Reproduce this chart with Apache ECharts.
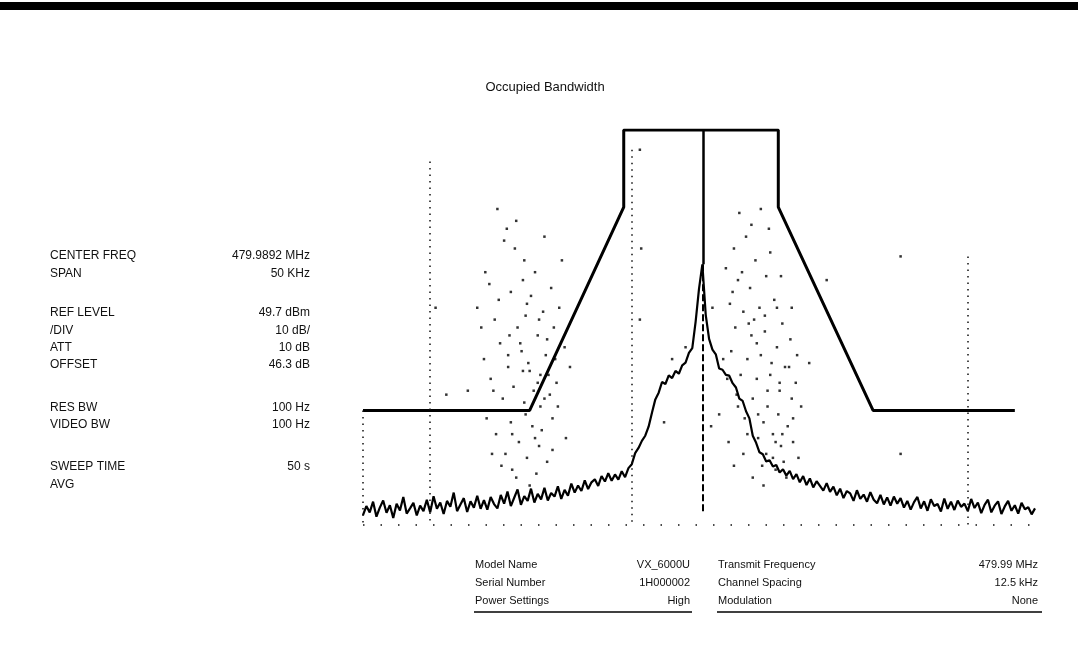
<!DOCTYPE html>
<html>
<head>
<meta charset="utf-8">
<title>Occupied Bandwidth</title>
<script src="https://cdn.jsdelivr.net/npm/echarts@6/dist/echarts.min.js"></script>
<style>
  html, body { margin: 0; padding: 0; background: #fff; }
  #chart { width: 1078px; height: 655px; }
</style>
</head>
<body>
<div id="chart"></div>
<script>
// sweep: offset from center freq in kHz, level in dB below ref
const traceStart = -25;
const traceStep = 0.25;
const traceLevels = [
  -97.5, -95.2, -96.8, -94.1, -97.9, -95.6, -93.8, -96.9, -95.0, -98.2, -94.6, -96.3, -92.9, -97.1, -95.8, -94.4, -97.6, -95.1, -96.5, -93.6,
  -96.8, -92.7, -95.9, -94.3, -97.2, -93.9, -95.4, -91.8, -96.5, -94.8, -93.2, -96.7, -94.0, -95.6, -92.6, -95.9, -93.7, -96.1, -92.9, -94.7,
  -95.8, -92.4, -94.6, -91.5, -95.2, -93.1, -91.0, -94.9, -92.7, -93.9, -90.8, -94.3, -92.1, -93.5, -90.6, -93.8, -91.9, -92.8, -90.2, -93.4,
  -91.1, -92.6, -89.5, -91.8, -90.0, -91.4, -88.7, -90.9, -89.2, -88.4, -90.1, -87.6, -89.0, -86.9, -88.8, -87.2, -88.5, -86.4, -87.9, -85.6,
  -84.6, -81.8, -80.5, -78.7, -77.4, -75.1, -71.6, -68.2, -66.5, -63.8, -64.3, -62.1, -62.8, -61.0, -61.7, -59.6, -58.9, -56.4, -55.2, -48.5,
  -40.2, -34.0, -46.8, -52.9, -55.6, -56.8, -60.4, -60.7, -62.0, -62.2, -64.1, -65.2, -68.0, -68.6, -71.2, -73.0, -77.4, -79.2, -81.6, -82.1,
  -83.9, -83.6, -85.2, -84.8, -86.7, -85.9, -87.5, -86.3, -88.4, -87.1, -89.2, -87.6, -89.9, -88.2, -90.5, -88.9, -90.1, -91.3, -89.4, -91.6,
  -90.3, -92.5, -90.8, -93.2, -91.4, -92.0, -93.9, -91.2, -93.4, -92.3, -94.1, -91.7, -93.6, -94.5, -92.4, -94.8, -93.0, -95.1, -92.8, -94.6,
  -93.2, -95.6, -93.9, -96.1, -94.2, -92.9, -95.8, -94.0, -96.4, -93.5, -95.2, -94.7, -96.6, -93.3, -95.9, -94.1, -96.2, -93.8, -95.4, -94.6,
  -96.5, -93.4, -95.7, -94.3, -97.0, -94.9, -93.6, -96.8, -95.1, -94.0, -97.2, -95.3, -93.9, -96.4, -95.0, -97.1, -94.4, -96.0, -95.5, -97.3, -95.8
];

// emission mask corners
const maskFreq = [-25, -12.6, -5.6, -5.6, 5.9, 5.9, 12.95, 23.5];
const maskLevel = [-71, -71, -19.5, 0, 0, -19.5, -71, -71];

// scattered max-hold dots
const dotFreq = [
  -14.5, -13.0, -12.2, -11.0, -14.0, -12.8, -11.6, -10.4, -15.2, -13.5, -12.0, -10.8, -14.8, -13.2, -11.4, -10.0, -16.0, -14.2, -12.6, -11.2,
  -15.5, -13.8, -12.3, -10.6, -14.6, -13.0, -11.8, -15.8, -14.0, -12.4, -10.9, -15.1, -13.4, -11.9, -14.4, -12.8, -11.3, -13.9, -12.1, -16.5,
  -17.2, -15.9, -13.6, -11.5, -10.2, -9.6, -9.9, -12.9, -14.1, -11.1,
  -15.0, -14.3, -13.7, -13.1, -12.5, -11.9, -11.3, -10.7, -15.6, -14.9, -14.1, -13.3, -12.7, -12.0, -11.5, -10.5, -16.2, -15.3, -13.9, -12.9,
  -12.2, -11.7, -10.9, -14.7, -13.6, -12.6, -11.8, -15.4, -14.2, -13.1,
  2.6, 3.5, 4.2, 2.9, 3.8, 5.0, 2.3, 3.3, 4.5, 5.6, 2.7, 3.9, 4.9, 6.2, 2.4, 3.6, 4.6, 5.8, 6.8, 3.1,
  4.3, 5.3, 6.4, 2.8, 4.0, 5.1, 6.0, 7.2, 3.4, 4.8, 5.9, 4.4, 5.5, 6.6, 5.0, 6.1, 7.0, 4.7, 5.7, 7.6,
  8.2, 1.8, 6.9, 3.0, 5.2, 7.4, 1.5, 4.1, 6.5, 2.2,
  2.0, 2.5, 3.2, 3.7, 4.3, 4.9, 5.4, 6.0, 6.7, 7.3, 2.1, 2.9, 3.6, 4.4, 5.1, 5.7, 6.3, 7.0, 3.3, 4.0,
  4.8, 5.5, 6.2, 2.6, 3.9, 4.6, 5.3, 6.1, 6.9, 5.8,
  -4.4, -4.3, -4.4, -2.0, -1.0, -2.6, 1.0, 0.9, 15.0, 15.0, 9.5, -19.6, -18.8
];
const dotLevel = [
  -28, -33, -36, -40, -41, -44, -46, -45, -48, -50, -52, -50, -54, -56, -57, -55, -58, -60, -61, -62,
  -63, -65, -66, -64, -68, -69, -70, -73, -74, -75, -73, -77, -79, -80, -82, -83, -84, -86, -87, -45,
  -66, -36, -23, -27, -33, -60, -78, -47, -71, -67,
  -20, -25, -30, -38, -42, -48, -53, -58, -39, -43, -52, -54, -59, -64, -68, -70, -50, -66, -77, -72,
  -78, -76, -81, -85, -88, -90, -62, -82, -57, -61,
  -30, -27, -33, -38, -40, -37, -44, -46, -45, -43, -50, -52, -51, -49, -56, -58, -57, -55, -53, -62,
  -63, -62, -60, -67, -68, -70, -66, -64, -73, -74, -72, -78, -77, -75, -82, -80, -79, -85, -86, -70,
  -59, -58, -45, -21, -25, -83, -72, -48, -88, -79,
  -35, -41, -36, -49, -54, -47, -59, -64, -60, -57, -63, -70, -77, -72, -66, -79, -84, -73, -82, -88,
  -90, -83, -77, -85, -24, -20, -31, -37, -68, -45,
  -5, -30, -48, -58, -55, -74, -45, -75, -32, -82, -38, -45, -67
];

const markerFreq = 0.3;
const markerPeak = -34;
// dotted graticule pieces that show on the scan: [freq, top level]
const gridFreqs = [-25, -20, -5, 20];
const gridTops = [-71, -8, -5, -32];

const panelLabels = ['CENTER FREQ', 'SPAN', 'REF LEVEL', '/DIV', 'ATT', 'OFFSET', 'RES BW', 'VIDEO BW', 'SWEEP TIME', 'AVG'];
const panelValues = ['479.9892 MHz', '50 KHz', '49.7 dBm', '10 dB/', '10 dB', '46.3 dB', '100 Hz', '100 Hz', '50 s', ''];
const panelRows = [256, 274, 313, 331, 348, 365, 408, 425, 467, 485];

const infoLeftLabels = ['Model Name', 'Serial Number', 'Power Settings'];
const infoLeftValues = ['VX_6000U', '1H000002', 'High'];
const infoRightLabels = ['Transmit Frequency', 'Channel Spacing', 'Modulation'];
const infoRightValues = ['479.99 MHz', '12.5 kHz', 'None'];
const infoRows = [565, 583, 601];

const chart = echarts.init(document.getElementById('chart'));

const trace = traceLevels.map((v, i) => [traceStart + i * traceStep, v]);
const mask = maskFreq.map((f, i) => [f, maskLevel[i]]);
const dots = dotFreq.map((f, i) => [f, dotLevel[i]]);

const txt = { fill: '#111', fontSize: 12, fontFamily: 'Liberation Sans, Arial, sans-serif' };
const graphics = [
  { type: 'rect', shape: { x: 0, y: 2, width: 1078, height: 8 }, style: { fill: '#000' } },
  { type: 'text', x: 545, y: 87, style: Object.assign({}, txt, { text: 'Occupied Bandwidth', fontSize: 13, align: 'center', verticalAlign: 'middle' }) }
];
panelLabels.forEach((t, i) => {
  graphics.push({ type: 'text', x: 50, y: panelRows[i], style: Object.assign({}, txt, { text: t, verticalAlign: 'middle' }) });
  graphics.push({ type: 'text', x: 310, y: panelRows[i], style: Object.assign({}, txt, { text: panelValues[i], align: 'right', verticalAlign: 'middle' }) });
});
infoRows.forEach((y, i) => {
  graphics.push({ type: 'text', x: 475, y: y, style: Object.assign({}, txt, { text: infoLeftLabels[i], fontSize: 11, verticalAlign: 'middle' }) });
  graphics.push({ type: 'text', x: 690, y: y, style: Object.assign({}, txt, { text: infoLeftValues[i], fontSize: 11, align: 'right', verticalAlign: 'middle' }) });
  graphics.push({ type: 'text', x: 718, y: y, style: Object.assign({}, txt, { text: infoRightLabels[i], fontSize: 11, verticalAlign: 'middle' }) });
  graphics.push({ type: 'text', x: 1038, y: y, style: Object.assign({}, txt, { text: infoRightValues[i], fontSize: 11, align: 'right', verticalAlign: 'middle' }) });
});
graphics.push({ type: 'line', shape: { x1: 474, y1: 612, x2: 692, y2: 612 }, style: { stroke: '#000', lineWidth: 1.5 } });
graphics.push({ type: 'line', shape: { x1: 717, y1: 612, x2: 1042, y2: 612 }, style: { stroke: '#000', lineWidth: 1.5 } });

const gridLines = gridFreqs.map((f, i) => [{ coord: [f, gridTops[i]] }, { coord: [f, -100] }]);

chart.setOption({
  animation: false,
  backgroundColor: '#fff',
  grid: { left: 363, right: 43, top: 130, bottom: 130 },
  xAxis: { type: 'value', min: -25, max: 25, show: false },
  yAxis: { type: 'value', min: -100, max: 0, show: false },
  graphic: graphics,
  series: [
    {
      name: 'graticule', type: 'line', data: [], silent: true,
      markLine: {
        symbol: 'none', silent: true, label: { show: false },
        lineStyle: { color: '#111', type: [1.5, 5], width: 1.5 },
        data: gridLines.concat([
          [{ coord: [-25, -100] }, { coord: [25, -100], lineStyle: { type: [1.5, 16] } }],
          [{ coord: [markerFreq, 0] }, { coord: [markerFreq, markerPeak], lineStyle: { type: 'solid', width: 2.5, color: '#000' } }],
          [{ coord: [markerFreq, markerPeak] }, { coord: [markerFreq, -97], lineStyle: { type: [7, 3], width: 2, color: '#000' } }]
        ])
      }
    },
    {
      name: 'max hold', type: 'scatter', data: dots, symbol: 'rect', symbolSize: 2.5,
      itemStyle: { color: '#000' }, silent: true
    },
    {
      name: 'mask', type: 'line', data: mask, showSymbol: false,
      lineStyle: { color: '#000', width: 3 }, silent: true
    },
    {
      name: 'trace', type: 'line', data: trace, showSymbol: false,
      lineStyle: { color: '#000', width: 2.2 }, silent: true
    }
  ]
});
</script>
</body>
</html>
